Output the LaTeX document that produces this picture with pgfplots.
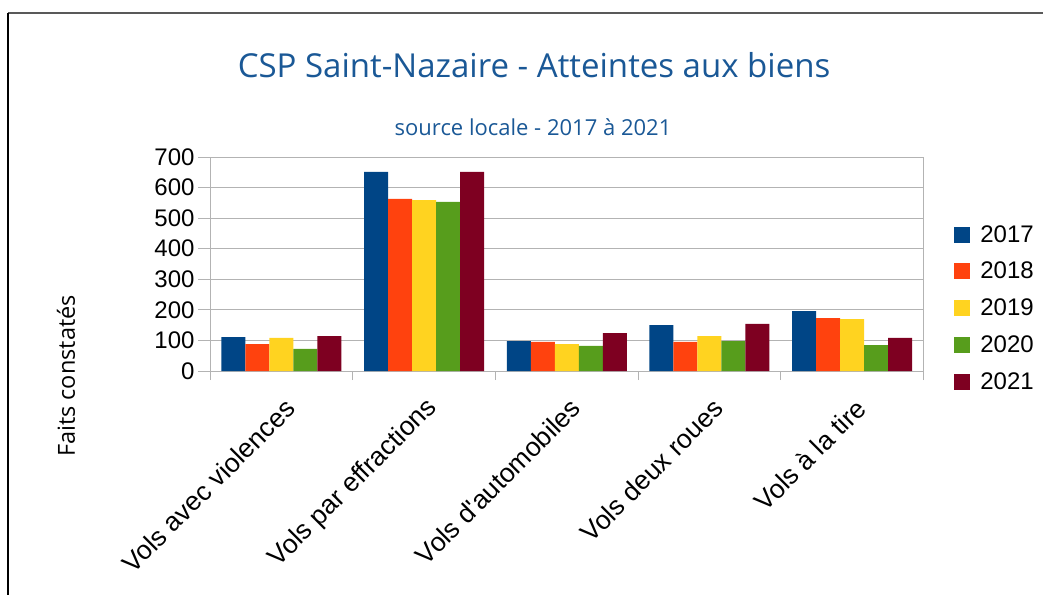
\documentclass[border=0pt]{standalone}
\usepackage{pgfplots}
\pgfplotsset{compat=1.18}
\usepackage{fontspec}
\setmainfont{Liberation Sans}
\newfontfamily\titlefont{Open Sans}
\definecolor{c17}{HTML}{004586}
\definecolor{c18}{HTML}{FF420E}
\definecolor{c19}{HTML}{FFD320}
\definecolor{c20}{HTML}{579D1C}
\definecolor{c21}{HTML}{7E0021}
\definecolor{titleblue}{HTML}{1A5896}
\definecolor{gridgray}{HTML}{B3B3B3}
\begin{document}
\begin{tikzpicture}[x=1pt,y=1pt]
\useasboundingbox (0,0) rectangle (1043,595);
\draw[line width=1.5pt, color=black!65] (8,582) -- (1043,582);
\draw[line width=1.5pt, black] (8,582) -- (8,0);
\node[font=\titlefont\fontsize{33}{38}\selectfont, text=titleblue] at (534,530) {CSP Saint-Nazaire - Atteintes aux biens};
\node[font=\titlefont\fontsize{22}{26}\selectfont, text=titleblue] at (533,468) {source locale - 2017 à 2021};
\node[rotate=90, font=\titlefont\fontsize{23.5}{27}\selectfont] at (66,219) {Faits constatés};
\begin{axis}[
  at={(210pt,224pt)}, anchor=south west,
  scale only axis, width=713.5pt, height=214pt,
  xmin=-0.5, xmax=4.5, ymin=0, ymax=700,
  ybar=0pt, bar width=24pt,
  xtick={0,1,2,3,4},
  xticklabels={Vols avec violences,Vols par effractions,Vols d\textquotesingle automobiles,Vols deux roues,Vols à la tire},
  minor xtick={-0.5,0.5,1.5,2.5,3.5,4.5},
  major x tick style={draw=none},
  xtick pos=bottom, ytick pos=left,
  ytick={0,100,...,700},
  ymajorgrids,
  grid style={color=gridgray, line width=1pt},
  axis line style={color=gridgray, line width=1pt},
  every tick/.style={color=gridgray, line width=1pt},
  tick align=outside,
  major tick length=12pt, minor tick length=9pt,
  /pgf/number format/assume math mode=true,
  yticklabel style={font=\fontsize{24}{28}\selectfont},
  xticklabel style={rotate=45, anchor=east, font=\fontsize{26.5}{30}\selectfont, yshift=-21pt, xshift=-5pt},
  legend style={at={(rel axis cs:1.043,0.294)}, anchor=west, draw=none, fill=none,
    font=\fontsize{24}{28}\selectfont, row sep=14.5pt, inner sep=0pt,
    /tikz/every odd column/.append style={column sep=8pt}},
  legend cell align=left,
  legend image code/.code={\fill[#1] (0pt,-8pt) rectangle (16pt,8pt);},
]
\addplot[fill=c17, draw=none] coordinates {(0,111) (1,651) (2,98) (3,150) (4,196)};
\addplot[fill=c18, draw=none] coordinates {(0,88) (1,563) (2,95) (3,95) (4,173)};
\addplot[fill=c19, draw=none] coordinates {(0,108) (1,559) (2,88) (3,114) (4,170)};
\addplot[fill=c20, draw=none] coordinates {(0,72) (1,553) (2,82) (3,98) (4,85)};
\addplot[fill=c21, draw=none] coordinates {(0,114) (1,651) (2,124) (3,154) (4,108)};
\legend{2017,2018,2019,2020,2021}
\end{axis}
\end{tikzpicture}
\end{document}
